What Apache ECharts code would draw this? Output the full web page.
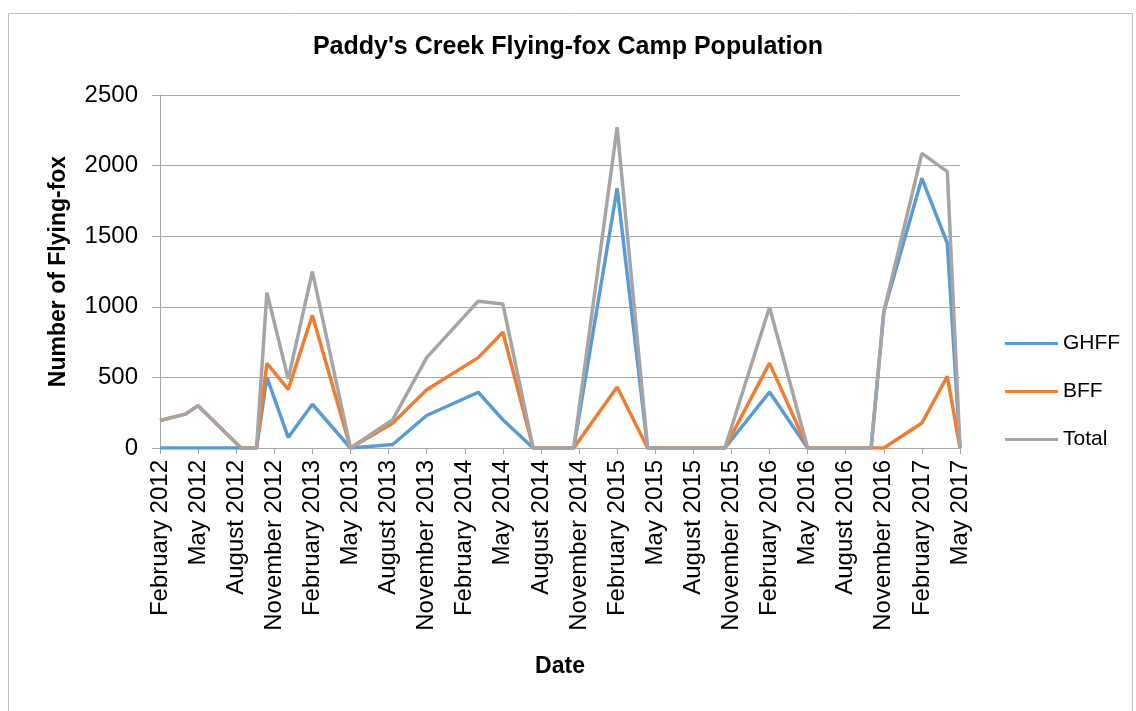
<!DOCTYPE html>
<html>
<head>
<meta charset="utf-8">
<script src="https://cdn.jsdelivr.net/npm/echarts@6/dist/echarts.min.js"></script>
<style>
  html, body { margin: 0; padding: 0; background: #fff; }
  #chart { width: 1136px; height: 711px; }
</style>
</head>
<body>
<div id="chart"></div>
<script>
// survey dates (x positions come from these through the value axis)
var surveyDates = ['2012-02-01', '2012-04-01', '2012-05-01', '2012-08-13', '2012-09-19',
  '2012-10-14', '2012-12-04', '2013-02-01', '2013-05-01', '2013-08-11', '2013-11-01',
  '2014-03-03', '2014-05-01', '2014-07-13', '2014-10-19', '2015-02-01', '2015-04-13',
  '2015-10-16', '2016-02-01', '2016-05-01', '2016-10-01', '2016-11-01', '2017-02-01',
  '2017-04-01', '2017-05-01'];
var ghff = [0, 0, 0, 0, 0, 500, 75, 310, 0, 25, 230, 395, 200, 0, 0, 1840, 0, 0, 396, 0, 0, 965, 1910, 1450, 0];
var bff = [195, 240, 300, 0, 0, 600, 415, 940, 0, 175, 413, 640, 820, 0, 0, 432, 0, 0, 601, 0, 0, 0, 177, 507, 0];
var total = [195, 240, 300, 0, 0, 1100, 490, 1250, 0, 200, 640, 1040, 1020, 0, 0, 2272, 0, 0, 997, 0, 0, 965, 2087, 1957, 0];
var tickLabels = ['February 2012', 'May 2012', 'August 2012', 'November 2012', 'February 2013',
  'May 2013', 'August 2013', 'November 2013', 'February 2014', 'May 2014', 'August 2014',
  'November 2014', 'February 2015', 'May 2015', 'August 2015', 'November 2015',
  'February 2016', 'May 2016', 'August 2016', 'November 2016', 'February 2017', 'May 2017'];

// months since February 2012, with the day as a fraction
function monthIndex(s) {
    var p = s.split('-');
    var y = +p[0], m = +p[1], d = +p[2];
    var days = new Date(y, m, 0).getDate();
    return (y - 2012) * 12 + (m - 2) + (d - 1) / days;
}
function pairs(vals) {
    return vals.map(function (v, i) { return [monthIndex(surveyDates[i]), v]; });
}

var font = 'Liberation Sans';
var myChart = echarts.init(document.getElementById('chart'));
var option = {
    animation: false,
    color: ['#5B9BD5', '#ED7D31', '#A5A5A5'],
    title: {
        text: "Paddy's Creek Flying-fox Camp Population",
        left: 'center',
        top: 30,
        textStyle: { fontFamily: font, fontSize: 25, fontWeight: 'bold', color: '#000' }
    },
    legend: {
        orient: 'vertical',
        left: 1000,
        top: 328,
        icon: 'rect',
        itemWidth: 53,
        itemHeight: 3,
        itemGap: 27,
        data: ['GHFF', 'BFF', 'Total'],
        textStyle: { fontFamily: font, fontSize: 21, color: '#000' }
    },
    grid: { left: 160, top: 95, width: 800, height: 353, containLabel: false },
    xAxis: {
        type: 'value',
        min: 0,
        max: 63,
        interval: 3,
        name: 'Date',
        nameLocation: 'middle',
        nameGap: 207,
        nameTextStyle: { fontFamily: font, fontSize: 23, fontWeight: 'bold', color: '#000' },
        axisLine: { lineStyle: { color: '#a6a6a6', width: 1 } },
        axisTick: { show: true, length: 6, lineStyle: { color: '#a6a6a6' } },
        splitLine: { show: false },
        axisLabel: {
            rotate: 90,
            margin: 12,
            fontFamily: font,
            fontSize: 24,
            color: '#000',
            formatter: function (v) { return tickLabels[Math.round(v / 3)] || ''; }
        }
    },
    yAxis: {
        type: 'value',
        min: 0,
        max: 2500,
        interval: 500,
        name: 'Number of Flying-fox',
        nameLocation: 'middle',
        nameGap: 90,
        nameTextStyle: { fontFamily: font, fontSize: 23, fontWeight: 'bold', color: '#000' },
        axisLine: { show: true, lineStyle: { color: '#a6a6a6', width: 1 } },
        axisTick: { show: true, length: 8, lineStyle: { color: '#a6a6a6' } },
        splitLine: { lineStyle: { color: '#a6a6a6', width: 1 } },
        axisLabel: {
            margin: 22, fontFamily: font, fontSize: 24, color: '#000',
            formatter: function (v) { return String(v); }
        }
    },
    series: [
        { name: 'GHFF', type: 'line', symbol: 'none', data: pairs(ghff), lineStyle: { width: 3.5 } },
        { name: 'BFF', type: 'line', symbol: 'none', data: pairs(bff), lineStyle: { width: 3.5 } },
        { name: 'Total', type: 'line', symbol: 'none', data: pairs(total), lineStyle: { width: 3.5 } }
    ],
    graphic: [{
        type: 'rect',
        shape: { x: 8.5, y: 13.5, width: 1124, height: 720 },
        style: { fill: 'none', stroke: '#bfbfbf', lineWidth: 1 },
        silent: true
    }]
};
myChart.setOption(option);
</script>
</body>
</html>
